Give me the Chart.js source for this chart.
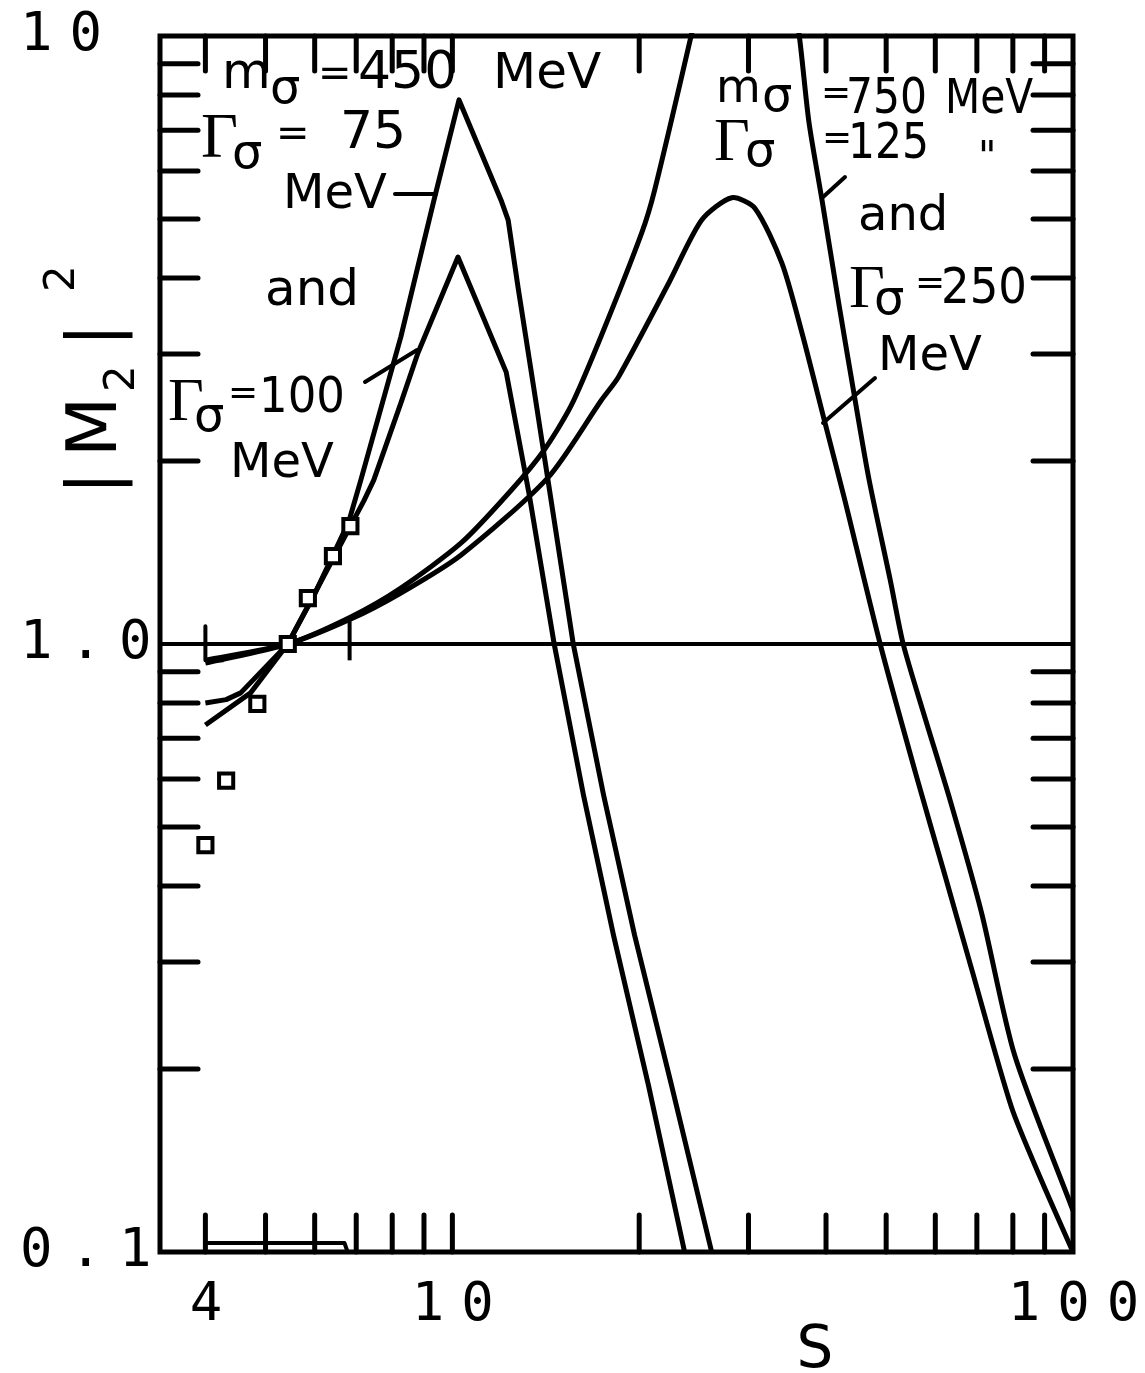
<!DOCTYPE html>
<html>
<head>
<meta charset="utf-8">
<script src="https://cdn.jsdelivr.net/npm/chart.js@4.4.1/dist/chart.umd.min.js"></script>
<style>
  html, body { margin: 0; padding: 0; background: #fff; }
  #wrap { width: 1145px; height: 1373px; position: relative; }
</style>
</head>
<body>
<div id="wrap"><canvas id="m2-chart"></canvas></div>
<script>
// |M2|^2 vs s
const sGamma75 = [4.0, 4.73, 5.43, 5.98, 6.81, 7.12, 8.26, 9.34, 10.25, 11.98, 12.30, 12.76, 13.50, 14.27, 15.66, 17.52, 19.66, 22.55, 26.17];
const m2Gamma75 = [0.736, 0.831, 1.0, 1.20, 1.59, 1.86, 3.20, 5.37, 7.85, 5.37, 4.98, 3.86, 2.67, 1.85, 1.0, 0.565, 0.332, 0.188, 0.1];

const sGamma100 = [4.0, 4.32, 4.56, 5.43, 6.42, 7.20, 7.47, 8.26, 8.80, 10.21, 12.21, 13.30, 14.59, 16.26, 18.18, 20.70, 23.67];
const m2Gamma100 = [0.80, 0.81, 0.831, 1.0, 1.38, 1.72, 1.86, 2.49, 3.01, 4.33, 2.80, 1.76, 1.0, 0.565, 0.332, 0.188, 0.1];

const sGamma125 = [4.0, 5.43, 6.86, 8.26, 10.33, 12.44, 14.06, 15.55, 17.39, 20.18, 21.18, 24.30, 26.5, 29.0, 32.0, 34.5, 36.18, 37.54, 39.41, 41.98, 44.55, 46.94, 50.76, 53.26, 57.37, 63.43, 71.2, 80.5, 100];
const m2Gamma125 = [0.93, 1.0, 1.108, 1.236, 1.466, 1.79, 2.085, 2.47, 3.22, 4.74, 5.58, 10.1, 15, 20, 18, 13.5, 10.1, 7.22, 5.37, 3.61, 2.52, 1.86, 1.274, 1.0, 0.773, 0.552, 0.362, 0.211, 0.117];

const sGamma250 = [4.0, 5.43, 6.86, 8.26, 10.33, 14.27, 17.39, 18.52, 22.31, 25.22, 28.19, 30.72, 33.96, 36.58, 39.85, 42.92, 48.90, 56.10, 62.03, 68.59, 79.6, 89.0, 100];
const m2Gamma250 = [0.94, 1.0, 1.099, 1.213, 1.401, 1.88, 2.52, 2.75, 3.92, 4.98, 5.42, 5.21, 4.23, 3.25, 2.31, 1.72, 1.0, 0.600, 0.420, 0.293, 0.173, 0.131, 0.1];

// measured points (open squares)
const sData = [4.0, 4.32, 4.85, 5.43, 5.85, 6.42, 6.85];
const m2Data = [0.467, 0.596, 0.797, 1.0, 1.19, 1.395, 1.563];

// small bracket marks drawn on the original
const markS = [[4.0, 4.0, 4.28], [6.83, 6.83], [4.0, 6.7, 6.78]];
const markM2 = [[1.07, 0.94, 0.94], [0.94, 1.09], [0.1035, 0.1035, 0.1]];

const xTickValues = [4, 10, 100];
const xTickLabels = ["4", "10", "100"];
const yTickValues = [0.1, 1, 10];
const yTickLabels = ["0.1", "1.0", "10"];
const xMinorTicks = [4, 5, 6, 7, 8, 9, 10, 20, 30, 40, 50, 60, 70, 80, 90];
const yMinorTicks = [0.2, 0.3, 0.4, 0.5, 0.6, 0.7, 0.8, 0.9, 2, 3, 4, 5, 6, 7, 8, 9];

const toPoints = (xs, ys) => xs.map((x, i) => ({ x: x, y: ys[i] }));

const curve = (xs, ys, tension) => ({
  data: toPoints(xs, ys),
  showLine: true,
  borderColor: "#000",
  borderWidth: 5,
  borderJoinStyle: "round",
  pointRadius: 0,
  tension: tension || 0,
  clip: 3,
});

// sx < 1 squeezes the text, the lettering on the right is narrow
function txt(ctx, s, x, y, size, family, sx) {
  ctx.save();
  ctx.font = size + "px " + (family || '"DejaVu Sans"');
  ctx.translate(x, y);
  ctx.scale(sx || 1, 1);
  ctx.fillText(s, 0, 0);
  ctx.restore();
}

function seg(ctx, x1, y1, x2, y2) {
  ctx.beginPath();
  ctx.moveTo(x1, y1);
  ctx.lineTo(x2, y2);
  ctx.stroke();
}

const frameTicks = {
  id: "frameTicks",
  beforeDraw(chart) {
    chart.ctx.letterSpacing = "17px";
  },
  beforeDatasetsDraw(chart) {
    const ctx = chart.ctx;
    ctx.letterSpacing = "0px";
    const { left, right } = chart.chartArea;
    const y1 = chart.scales.y.getPixelForValue(1);
    ctx.save();
    ctx.strokeStyle = "#000";
    ctx.lineWidth = 4;
    seg(ctx, left, y1, right, y1);
    ctx.restore();
  },
  afterDraw(chart) {
    const ctx = chart.ctx;
    const { left, right, top, bottom } = chart.chartArea;
    const xs = chart.scales.x;
    const ys = chart.scales.y;
    ctx.save();
    ctx.letterSpacing = "0px";
    ctx.strokeStyle = "#000";
    ctx.fillStyle = "#000";
    ctx.lineWidth = 5;
    ctx.lineCap = "round";
    ctx.strokeRect(left, top, right - left, bottom - top);

    xMinorTicks.forEach((v) => {
      const px = xs.getPixelForValue(v);
      seg(ctx, px, bottom, px, bottom - 37);
      seg(ctx, px, top, px, top + 35);
    });
    yMinorTicks.forEach((v) => {
      const py = ys.getPixelForValue(v);
      seg(ctx, left, py, left + 38, py);
      seg(ctx, right, py, right - 40, py);
    });

    // leader lines
    ctx.lineWidth = 4;
    seg(ctx, 395, 194, 436, 194);
    seg(ctx, 365, 382, 417, 350);
    seg(ctx, 822, 198, 845, 177);
    seg(ctx, 875, 378, 823, 423);

    ctx.textAlign = "left";
    ctx.textBaseline = "alphabetic";
    const serif = '"Liberation Serif"';

    // m = 450 MeV group
    txt(ctx, "m", 222, 88, 50);
    txt(ctx, "σ", 270, 103, 48);
    txt(ctx, "=", 318, 86, 40);
    txt(ctx, "450", 358, 88, 52);
    txt(ctx, "MeV", 493, 88, 50);
    txt(ctx, "Γ", 201, 157, 64, serif);
    txt(ctx, "σ", 232, 168, 48);
    txt(ctx, "=", 276, 146, 40);
    txt(ctx, "75", 340, 148, 52);
    txt(ctx, "MeV", 283, 208, 48);
    txt(ctx, "and", 265, 305, 50);
    txt(ctx, "Γ", 168, 420, 62, serif);
    txt(ctx, "σ", 194, 431, 48);
    txt(ctx, "=", 228, 404, 36);
    txt(ctx, "100", 259, 412, 50, null, 0.9);
    txt(ctx, "MeV", 230, 477, 48);

    // m = 750 MeV group
    txt(ctx, "m", 716, 102, 46);
    txt(ctx, "σ", 762, 111, 48);
    txt(ctx, "=", 821, 104, 36);
    txt(ctx, "750", 846, 113, 50, null, 0.85);
    txt(ctx, "MeV", 945, 113, 48, null, 0.85);
    txt(ctx, "Γ", 714, 160, 62, serif);
    txt(ctx, "σ", 745, 166, 48);
    txt(ctx, "=", 822, 149, 36);
    txt(ctx, "125", 848, 158, 50, null, 0.85);
    txt(ctx, "\"", 978, 170, 40);
    txt(ctx, "and", 858, 230, 48);
    txt(ctx, "Γ", 849, 307, 62, serif);
    txt(ctx, "σ", 874, 314, 48);
    txt(ctx, "=", 915, 294, 36);
    txt(ctx, "250", 941, 303, 50, null, 0.9);
    txt(ctx, "MeV", 878, 370, 48);

    // x title
    ctx.textAlign = "center";
    txt(ctx, "S", 815, 1367, 58);

    // y title |M2|^2, rotated
    ctx.translate(116, 495);
    ctx.rotate(-Math.PI / 2);
    ctx.textAlign = "left";
    txt(ctx, "|", 0, 0, 70);
    txt(ctx, "M", 38, 0, 70);
    txt(ctx, "2", 103, 18, 42);
    txt(ctx, "|", 148, 0, 70);
    txt(ctx, "2", 203, -42, 42);
    ctx.restore();
  },
};

const ctx = document.getElementById("m2-chart").getContext("2d");
const datasets = [
  {
    data: toPoints(sData, m2Data),
    showLine: false,
    pointStyle: "rect",
    pointRadius: 10,
    borderWidth: 4,
    borderColor: "#000",
    backgroundColor: "#fff",
    clip: 3,
  },
  curve(sGamma75, m2Gamma75, 0),
  curve(sGamma100, m2Gamma100, 0),
  curve(sGamma125, m2Gamma125, 0.25),
  curve(sGamma250, m2Gamma250, 0.25),
];
markS.forEach((xs, i) => {
  const d = curve(xs, markM2[i], 0);
  d.borderWidth = 4;
  datasets.push(d);
});

const chart = new Chart(ctx, {
  type: "scatter",
  data: { datasets: datasets },
  options: {
    responsive: true,
    maintainAspectRatio: false,
    animation: false,
    devicePixelRatio: 1,
    layout: { padding: { left: 20, top: 36, right: 72, bottom: 0 } },
    plugins: {
      legend: { display: false },
      tooltip: { enabled: false },
    },
    scales: {
      x: {
        type: "logarithmic",
        min: 3.38,
        max: 100,
        grid: { display: false },
        border: { display: false },
        afterBuildTicks: (scale) => {
          scale.ticks = xTickValues.map((v) => ({ value: v }));
        },
        afterFit: (scale) => {
          scale.height = 121;
        },
        ticks: {
          autoSkip: false,
          maxRotation: 0,
          padding: 14,
          labelOffset: 9,
          color: "#000",
          font: { family: '"DejaVu Sans Mono"', size: 54 },
          callback: (value) => xTickLabels[xTickValues.indexOf(value)],
        },
      },
      y: {
        type: "logarithmic",
        min: 0.1,
        max: 10,
        grid: { display: false },
        border: { display: false },
        afterBuildTicks: (scale) => {
          scale.ticks = yTickValues.map((v) => ({ value: v }));
        },
        afterFit: (scale) => {
          scale.width = 140;
        },
        ticks: {
          autoSkip: false,
          crossAlign: "far",
          color: "#000",
          font: { family: '"DejaVu Sans Mono"', size: 54 },
          callback: (value) => yTickLabels[yTickValues.indexOf(value)],
        },
      },
    },
  },
  plugins: [frameTicks],
});
</script>
</body>
</html>
